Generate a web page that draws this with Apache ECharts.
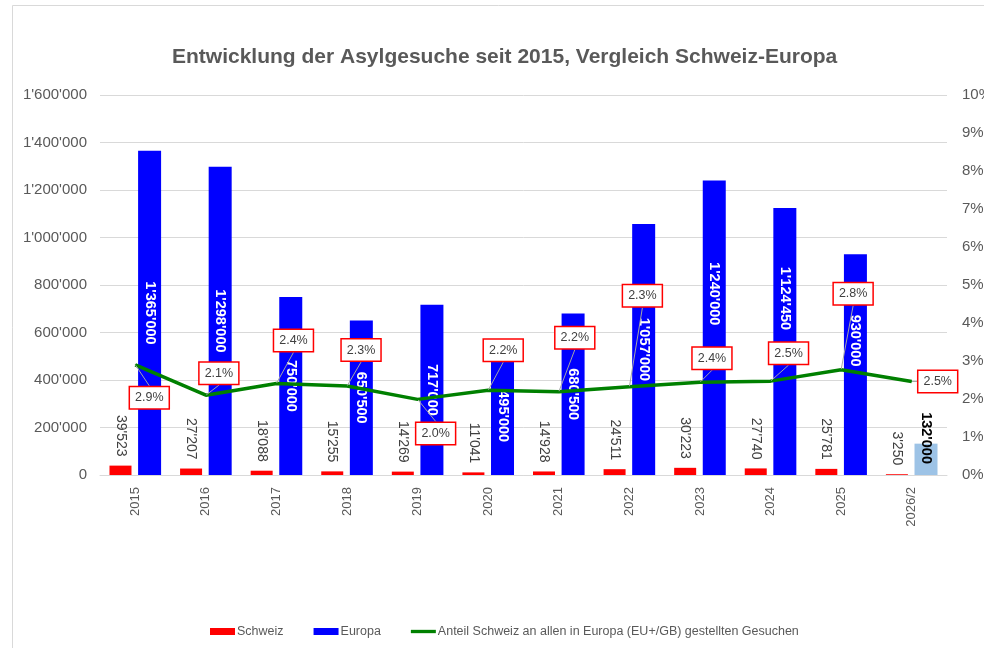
<!DOCTYPE html>
<html>
<head>
<meta charset="utf-8">
<script src="https://cdn.jsdelivr.net/npm/echarts@6/dist/echarts.min.js"></script>
<style>
html,body{margin:0;padding:0;background:#fff;}
#chart{width:984px;height:648px;}
</style>
</head>
<body>
<div id="chart"></div>
<script>
var categories = ['2015','2016','2017','2018','2019','2020','2021','2022','2023','2024','2025','2026/2'];
var schweiz = [39523, 27207, 18088, 15255, 14269, 11041, 14928, 24511, 30223, 27740, 25781, 3250];
var europa = [1365000, 1298000, 750000, 650500, 717000, 495000, 680500, 1057000, 1240000, 1124450, 930000, 132000];
var anteil = [2.90, 2.10, 2.41, 2.34, 1.99, 2.23, 2.19, 2.32, 2.44, 2.47, 2.77, 2.46];
var leftTicks = [0, 200000, 400000, 600000, 800000, 1000000, 1200000, 1400000, 1600000];
var rightTicks = [0,1,2,3,4,5,6,7,8,9,10];

// label offsets (layout only)
var pctOffsets = [[14,33],[13,-22],[17,-43],[14,-36],[18,34],[15,-40],[16,-54],[13,-91],[12,-24],[18,-28],[12,-76],[26,0]];
var europaLabelShift = [0,0,0,0,0,0,0,0,-34,-43,-24,0];

function fmt(v){
  return String(Math.round(v)).replace(/\B(?=(\d{3})+(?!\d))/g, "'");
}

var chart = echarts.init(document.getElementById('chart'), null, {renderer:'canvas'});
var gray = '#595959';
var font = 'Liberation Sans, Arial, sans-serif';

var europaData = europa.map(function(v,i){
  if (i === europa.length-1) {
    return {value:v, itemStyle:{color:'#9DC3E6'},
      label:{color:'#000', fontWeight:'bold', position:'insideBottom', align:'right', distance:11}};
  }
  if (europaLabelShift[i]) {
    // label is rotated -90deg, so its local x axis points down the screen
    return {value:v, label:{offset:[europaLabelShift[i], 0]}};
  }
  return v;
});

var option = {
  animation:false,
  textStyle:{fontFamily:font},
  graphic:[{
    type:'rect', silent:true, z:-10,
    shape:{x:12.5, y:5.5, width:1000, height:700},
    style:{fill:'#fff', stroke:'#D9D9D9', lineWidth:1}
  }],
  title:{
    text:'Entwicklung der Asylgesuche seit 2015, Vergleich Schweiz-Europa',
    left:167, top:42,
    textStyle:{fontSize:21, fontWeight:'bold', color:gray, fontFamily:font}
  },
  legend:{
    top:620, left:205,
    itemGap:30, itemWidth:25, itemHeight:7,
    textStyle:{color:gray, fontSize:12.5, fontFamily:font, padding:[0,0,0,-3]},
    data:[
      {name:'Schweiz', icon:'rect'},
      {name:'Europa', icon:'rect'},
      {name:'Anteil Schweiz an allen in Europa (EU+/GB) gestellten Gesuchen', icon:'path://M0,0 L30,0 L30,4 L0,4 Z', itemStyle:{color:'#008000'}}
    ]
  },
  grid:{left:100, right:37, top:95, bottom:173, containLabel:false, outerBoundsMode:'none'},
  xAxis:{
    type:'category', data:categories,
    axisLine:{show:true, lineStyle:{color:'#D9D9D9'}},
    axisTick:{show:false},
    axisLabel:{rotate:90, color:gray, fontSize:13, margin:12, fontFamily:font}
  },
  yAxis:[{
    type:'value', min:leftTicks[0], max:leftTicks[leftTicks.length-1], interval:leftTicks[1]-leftTicks[0],
    axisLine:{show:false}, axisTick:{show:false},
    splitLine:{lineStyle:{color:'#D9D9D9', width:1}},
    axisLabel:{color:gray, fontSize:15, margin:13, fontFamily:font, formatter:function(v){return fmt(v);}}
  },{
    type:'value', min:rightTicks[0], max:rightTicks[rightTicks.length-1], interval:rightTicks[1]-rightTicks[0],
    axisLine:{show:false}, axisTick:{show:false},
    splitLine:{show:false},
    axisLabel:{color:gray, fontSize:15, margin:15, fontFamily:font, formatter:function(v){return v+'%';}}
  }],
  series:[{
    name:'Schweiz', type:'bar', data:schweiz,
    barWidth:22, barGap:'30%',
    itemStyle:{color:'#FF0000'},
    label:{show:true, position:'top', distance:9, rotate:-90, align:'right', verticalAlign:'middle',
      color:'#404040', fontSize:14, fontFamily:font, formatter:function(p){return fmt(p.value);}}
  },{
    name:'Europa', type:'bar', data:europaData,
    barWidth:23,
    itemStyle:{color:'#0000FF'},
    label:{show:true, position:'inside', rotate:-90, align:'center', verticalAlign:'middle',
      color:'#fff', fontSize:14.5, fontWeight:'bold', fontFamily:font, formatter:function(p){return fmt(p.value);}}
  },{
    name:'Anteil Schweiz an allen in Europa (EU+/GB) gestellten Gesuchen',
    type:'line', yAxisIndex:1, data:anteil,
    showSymbol:true, symbol:'circle', symbolSize:1,
    itemStyle:{color:'#008000'},
    lineStyle:{color:'#008000', width:3.5},
    z:5,
    label:{show:true, position:'inside', color:'#404040', fontSize:12.5, fontFamily:font,
      backgroundColor:'#fff', borderColor:'#FF0000', borderWidth:1.5, padding:[4,5,4,5],
      formatter:function(p){return p.value.toFixed(1)+'%';}},
    labelLine:{show:true, lineStyle:{color:'#A6A6A6', width:1}},
    labelLayout:function(p){
      var o = pctOffsets[p.dataIndex];
      return {dx:o[0], dy:o[1]};
    }
  }]
};
chart.setOption(option);
</script>
</body>
</html>
